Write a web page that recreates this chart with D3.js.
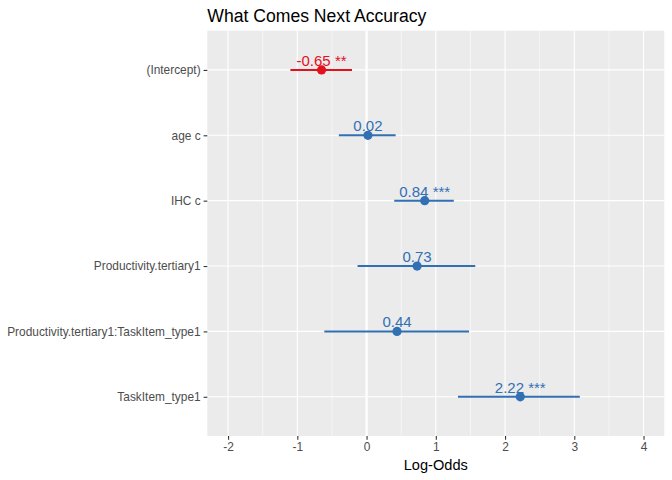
<!DOCTYPE html>
<html>
<head>
<meta charset="utf-8">
<script src="https://cdn.jsdelivr.net/npm/d3@7"></script>
<style>
  body { margin: 0; background: #fff; }
  svg { font-family: "Liberation Sans", Arial, sans-serif; }
</style>
</head>
<body>
<div id="chart"></div>
<script>
// model terms, top to bottom
var terms = ["(Intercept)", "age c", "IHC c", "Productivity.tertiary1",
             "Productivity.tertiary1:TaskItem_type1", "TaskItem_type1"];
var estimates = [-0.65, 0.02, 0.84, 0.73, 0.44, 2.22];
var ciLow = [-1.10, -0.40, 0.40, -0.13, -0.61, 1.32];
var ciHigh = [-0.21, 0.42, 1.26, 1.57, 1.48, 3.08];
var stars = ["**", "", "***", "", "", "***"];
var xTicks = [-2, -1, 0, 1, 2, 3, 4];
var xMinor = [-1.5, -0.5, 0.5, 1.5, 2.5, 3.5];

var data = terms.map(function (t, i) {
    return { term: t, est: estimates[i], lo: ciLow[i], hi: ciHigh[i], p: stars[i] };
});

var W = 672, H = 480;
var margin = { top: 30.7, right: 7.7, bottom: 44, left: 207.3 };
var width = W - margin.left - margin.right,
    height = H - margin.top - margin.bottom;

var svg = d3.select("#chart").append("svg")
    .attr("width", W).attr("height", H);

var g = svg.append("g")
    .attr("transform", "translate(" + margin.left + "," + margin.top + ")");

// x: limits -2..4 with ggplot's 5% expansion
var lim = [-2, 4], ext = (lim[1] - lim[0]) * 0.05;
var x = d3.scaleLinear()
    .domain([lim[0] - ext, lim[1] + ext])
    .range([0, width]);

// y: discrete, 0.6 added each side
var y = d3.scalePoint()
    .domain(terms)
    .range([0, height])
    .padding(0.6);

// panel
g.append("rect").attr("width", width).attr("height", height).attr("fill", "#ebebeb");

g.selectAll(".minor").data(xMinor).enter().append("line")
    .attr("x1", d => x(d)).attr("x2", d => x(d))
    .attr("y1", 0).attr("y2", height)
    .attr("stroke", "#fff").attr("stroke-width", 0.55);

g.selectAll(".major").data(xTicks).enter().append("line")
    .attr("x1", d => x(d)).attr("x2", d => x(d))
    .attr("y1", 0).attr("y2", height)
    .attr("stroke", "#fff").attr("stroke-width", 1.1);

g.selectAll(".hmajor").data(terms).enter().append("line")
    .attr("x1", 0).attr("x2", width)
    .attr("y1", d => y(d)).attr("y2", d => y(d))
    .attr("stroke", "#fff").attr("stroke-width", 1.1);

// zero line
g.append("line")
    .attr("x1", x(0)).attr("x2", x(0))
    .attr("y1", 0).attr("y2", height)
    .attr("stroke", "#fff").attr("stroke-width", 2.2);

// axes
var xAxis = g.append("g")
    .attr("transform", "translate(0," + height + ")")
    .call(d3.axisBottom(x).tickValues(xTicks).tickSize(3.7).tickPadding(3).tickFormat(d3.format("d")));
var yAxis = g.append("g")
    .call(d3.axisLeft(y).tickSize(3.7).tickPadding(3));

[xAxis, yAxis].forEach(function (a) {
    a.select(".domain").remove();
    a.selectAll(".tick line").attr("stroke", "#333").attr("stroke-width", 1.1);
    a.selectAll(".tick text")
        .attr("fill", "#4d4d4d")
        .style("font-size", "11.9px")
        .style("font-family", "Liberation Sans, Arial, sans-serif");
});
xAxis.selectAll(".tick text").text(d => d < 0 ? "-" + Math.abs(d) : d);

var colour = d => d.est < 0 ? "#e3101e" : "#3170b3";

// confidence intervals
g.selectAll(".ci").data(data).enter().append("line")
    .attr("x1", d => x(d.lo)).attr("x2", d => x(d.hi))
    .attr("y1", d => y(d.term)).attr("y2", d => y(d.term))
    .attr("stroke", colour).attr("stroke-width", 2);

// estimates
g.selectAll(".pt").data(data).enter().append("circle")
    .attr("cx", d => x(d.est)).attr("cy", d => y(d.term))
    .attr("r", 4.6).attr("fill", colour);

// value labels
g.selectAll(".lab").data(data).enter().append("text")
    .attr("x", d => x(d.est)).attr("y", d => y(d.term) - 4)
    .attr("text-anchor", "middle")
    .attr("fill", colour)
    .style("font-size", "15px")
    .text(d => d3.format(".2f")(d.est).replace("−", "-") + (d.p ? " " + d.p : ""));

// titles
svg.append("text")
    .attr("x", margin.left).attr("y", 21.5)
    .attr("fill", "#000")
    .style("font-size", "17.6px")
    .text("What Comes Next Accuracy");

svg.append("text")
    .attr("x", margin.left + width / 2).attr("y", 469.5)
    .attr("text-anchor", "middle")
    .attr("fill", "#000")
    .style("font-size", "14.6px")
    .text("Log-Odds");
</script>
</body>
</html>
